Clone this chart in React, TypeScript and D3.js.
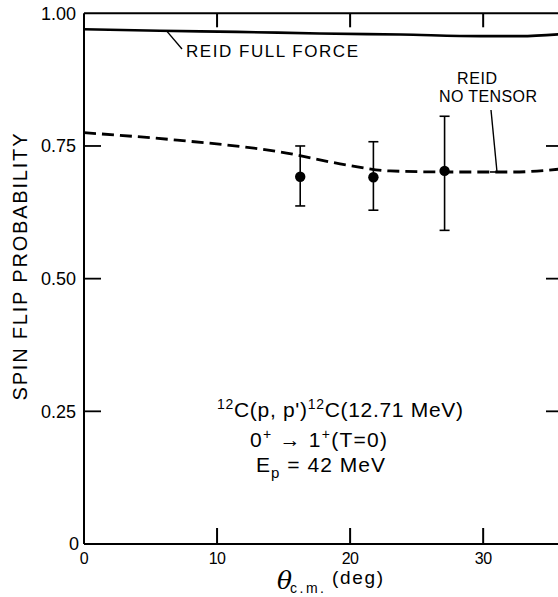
import React from 'react';
import * as d3 from 'd3';

// Reid full force curve (theta c.m. in deg, spin flip probability)
const fullForceTheta = [0, 5.7, 11.5, 17.7, 23.8, 29.8, 32.8, 36];
const fullForceProb = [0.970, 0.967, 0.965, 0.962, 0.960, 0.957, 0.957, 0.961];

// Reid no tensor curve
const noTensorTheta = [0, 7, 14.7, 19.8, 23, 27.3, 32.3, 36];
const noTensorProb = [0.775, 0.761, 0.739, 0.714, 0.703, 0.701, 0.701, 0.707];

// measured points with error bars
const pointTheta = [16.25, 21.75, 27.1];
const pointProb = [0.692, 0.691, 0.703];
const pointHigh = [0.750, 0.758, 0.806];
const pointLow = [0.637, 0.629, 0.591];

const xTicks = [0, 10, 20, 30];
const yTicks = [0, 0.25, 0.5, 0.75, 1.0];
const yTickLabels = ['0', '0.25', '0.50', '0.75', '1.00'];

const W = 558;
const H = 597;
const font = '"Liberation Sans", Arial, sans-serif';

const App = () => {
    const x = d3.scaleLinear().domain([0, 36]).range([84, 563]);
    const y = d3.scaleLinear().domain([0, 1]).range([544, 13.3]);

    const line = d3
        .line<[number, number]>()
        .x((d) => x(d[0]))
        .y((d) => y(d[1]))
        .curve(d3.curveMonotoneX);

    const fullPath = line(fullForceTheta.map((t, i) => [t, fullForceProb[i]])) || '';
    const noTensorPath = line(noTensorTheta.map((t, i) => [t, noTensorProb[i]])) || '';

    const x0 = x(0);
    const x1 = x(36);
    const yb = y(0);
    const yt = y(1);

    return (
        <svg width={W} height={H} style={{ position: 'absolute', left: 0, top: 0, background: '#fff' }}>
            <g stroke="#000" fill="none">
                {/* frame */}
                <line x1={x0} y1={yt} x2={W} y2={yt} strokeWidth={2} />
                <line x1={x0} y1={yt} x2={x0} y2={yb} strokeWidth={2} />
                <line x1={x0} y1={yb} x2={W} y2={yb} strokeWidth={2} />
                <line x1={x1} y1={yt} x2={x1} y2={yb} strokeWidth={2} />

                {/* x ticks, bottom and top */}
                {xTicks.slice(1).map((t) => (
                    <g key={'xt' + t}>
                        <line x1={x(t)} y1={yb} x2={x(t)} y2={yb - 16} strokeWidth={2} />
                        <line x1={x(t)} y1={yt} x2={x(t)} y2={yt + 14} strokeWidth={2} />
                    </g>
                ))}
                {/* y ticks, left and right */}
                {yTicks.slice(1, 4).map((t) => (
                    <g key={'yt' + t}>
                        <line x1={x0} y1={y(t)} x2={x0 + 17} y2={y(t)} strokeWidth={1.8} />
                        <line x1={x1} y1={y(t)} x2={x1 - 17} y2={y(t)} strokeWidth={1.8} />
                    </g>
                ))}

                {/* curves */}
                <path d={fullPath} strokeWidth={2.6} />
                <path d={noTensorPath} strokeWidth={2.8} strokeDasharray="12 6" />

                {/* error bars */}
                {pointTheta.map((t, i) => (
                    <g key={'eb' + i} strokeWidth={1.6}>
                        <line x1={x(t)} y1={y(pointHigh[i])} x2={x(t)} y2={y(pointLow[i])} />
                        <line x1={x(t) - 5} y1={y(pointHigh[i])} x2={x(t) + 5} y2={y(pointHigh[i])} />
                        <line x1={x(t) - 5} y1={y(pointLow[i])} x2={x(t) + 5} y2={y(pointLow[i])} />
                    </g>
                ))}

                {/* leader lines */}
                <line x1={167} y1={y(0.966)} x2={182} y2={49} strokeWidth={1.4} />
                <line x1={491} y1={110} x2={497} y2={y(0.701)} strokeWidth={1.4} />
                <line x1={490} y1={y(0.701)} x2={503} y2={y(0.701)} strokeWidth={1.6} />
            </g>

            {pointTheta.map((t, i) => (
                <circle key={'pt' + i} cx={x(t)} cy={y(pointProb[i])} r={5.2} fill="#000" />
            ))}

            <g fontFamily={font} fill="#000">
                {/* y tick labels */}
                {yTicks.map((t, i) => (
                    <text key={'yl' + t} x={i === 0 ? 79 : 76} y={y(t)} dy="0.36em" textAnchor="end" fontSize={18}>
                        {yTickLabels[i]}
                    </text>
                ))}
                {/* x tick labels */}
                {xTicks.map((t) => (
                    <text key={'xl' + t} x={x(t)} y={558} dy="0.36em" textAnchor="middle" fontSize={16}
                        letterSpacing={-0.5}>
                        {t}
                    </text>
                ))}

                {/* axis titles */}
                <text transform="translate(27,267) rotate(-90)" textAnchor="middle" fontSize={20}
                    textLength={267} lengthAdjust="spacing">
                    SPIN FLIP PROBABILITY
                </text>
                <text x={277} y={589} fontSize={25} fontStyle="italic" fontFamily="'DejaVu Serif', serif">θ</text>
                <text x={290} y={593} fontSize={14} textLength={34} lengthAdjust="spacing">c.m.</text>
                <text x={332} y={584} fontSize={19} textLength={51} lengthAdjust="spacing">(deg)</text>

                {/* curve labels */}
                <text x={186} y={57} fontSize={17} textLength={172} lengthAdjust="spacing">REID FULL FORCE</text>
                <text x={457} y={84} fontSize={16} textLength={40} lengthAdjust="spacing">REID</text>
                <text x={439} y={102} fontSize={16} textLength={98} lengthAdjust="spacing">NO TENSOR</text>

                {/* reaction annotation */}
                <text x={217} y={417} fontSize={21} textLength={246} lengthAdjust="spacing">
                    <tspan fontSize={14} dy={-8}>12</tspan>
                    <tspan dy={8}>C(p, p')</tspan>
                    <tspan fontSize={14} dy={-8}>12</tspan>
                    <tspan dy={8}>C(12.71 MeV)</tspan>
                </text>
                <text x={250} y={447} fontSize={21} textLength={137} lengthAdjust="spacing">
                    <tspan>0</tspan>
                    <tspan fontSize={14} dy={-8}>+</tspan>
                    <tspan dy={8}> → 1</tspan>
                    <tspan fontSize={14} dy={-8}>+</tspan>
                    <tspan dy={8}>(T=0)</tspan>
                </text>
                <text x={256} y={472} fontSize={21} textLength={129} lengthAdjust="spacing">
                    <tspan>E</tspan>
                    <tspan fontSize={15} dy={6}>p</tspan>
                    <tspan dy={-6}> = 42  MeV</tspan>
                </text>
            </g>
        </svg>
    );
};

export default App;
